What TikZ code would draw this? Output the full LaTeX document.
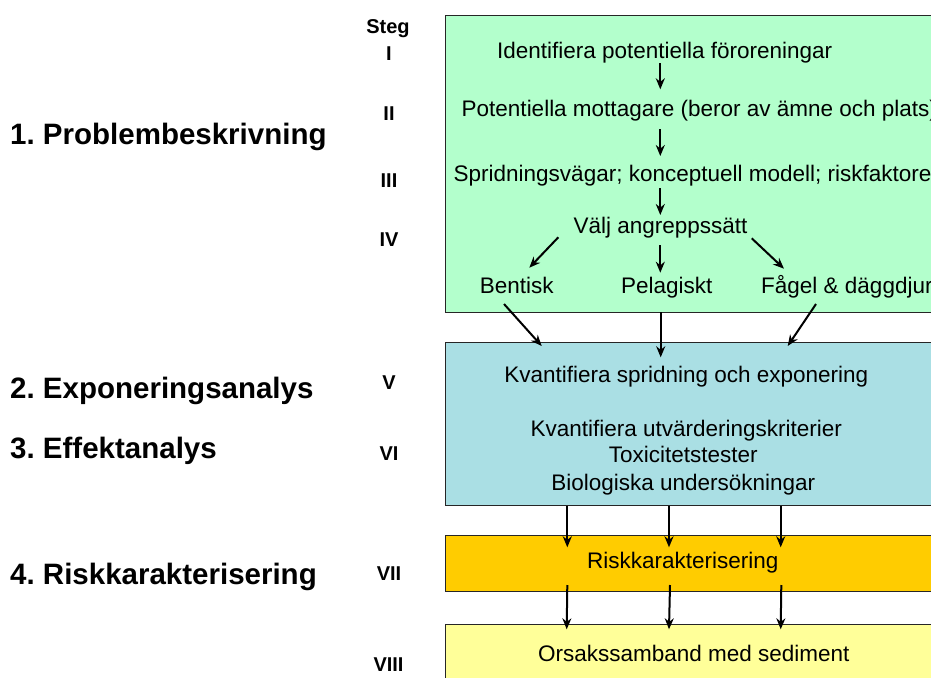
\documentclass[tikz,border=0pt]{standalone}
\usepackage{fontspec}
\setmainfont{Liberation Sans}
\frenchspacing
\usetikzlibrary{arrows.meta}

\definecolor{stageA}{RGB}{179,255,204}
\definecolor{stageB}{RGB}{170,223,228}
\definecolor{stageC}{RGB}{255,204,0}
\definecolor{stageD}{RGB}{255,255,153}

\tikzset{
  box/.style={draw=black!85, line width=0.9pt, anchor=north west, inner sep=0pt},
  txt/.style={inner sep=0pt, anchor=base, font=\fontsize{22.5}{26}\selectfont},
  txtw/.style={txt, anchor=base west},
  phase/.style={inner sep=0pt, anchor=base west, font=\fontsize{29.5}{34}\selectfont\bfseries},
  stegl/.style={inner sep=0pt, anchor=base, font=\fontsize{20}{24}\selectfont\bfseries},
  arr/.style={line width=2pt, -{Stealth[length=11pt,width=9pt]}}
}

\begin{document}
\begin{tikzpicture}[x=1pt,y=-1pt]
\useasboundingbox (0,0) rectangle (931,677);
\clip (0,0) rectangle (931,677);

% stage boxes (they run past the right edge)
\node[box, fill=stageA, minimum width=520pt, minimum height=297pt] (green) at (445,15) {};
\node[box, fill=stageB, minimum width=520pt, minimum height=163pt] (blue) at (445,342) {};
\node[box, fill=stageC, minimum width=520pt, minimum height=56pt] (orange) at (445,535) {};
\node[box, fill=stageD, minimum width=520pt, minimum height=80pt] (yellow) at (445,624) {};

% phase titles
\node[phase] (p1) at (10,144.3) {1. Problembeskrivning};
\node[phase] (p2) at (10,398.3) {2. Exponeringsanalys};
\node[phase] (p3) at (10,458.3) {3. Effektanalys};
\node[phase] (p4) at (10,584.3) {4. Riskkarakterisering};

% step numbers
\node[stegl] (steg) at (388,33.3) {Steg};
\node[stegl] (s1) at (389,60) {I};
\node[stegl] (s2) at (389,120) {II};
\node[stegl] (s3) at (389,187.7) {III};
\node[stegl] (s4) at (389,246.7) {IV};
\node[stegl] (s5) at (389,389.3) {V};
\node[stegl] (s6) at (389,460) {VI};
\node[stegl] (s7) at (389,580) {VII};
\node[stegl] (s8) at (388.5,671.7) {VIII};

% problem formulation texts
\node[txt] (t1) at (664.7,58.3) {Identifiera potentiella föroreningar};
\node[txtw] (t2) at (461.5,116.7) {Potentiella mottagare (beror av ämne och plats)};
\node[txtw] (t3) at (453.5,181.7) {Spridningsvägar; konceptuell modell; riskfaktorer};
\node[txt] (t4) at (660.5,233) {Välj angreppssätt};
\node[txt] (bent) at (516.7,293) {Bentisk};
\node[txt] (pel) at (666.7,293) {Pelagiskt};
\node[txtw] (fag) at (761,293) {Fågel \& däggdjur};

% exposure and effect texts
\node[txt] (e1) at (686.3,382.7) {Kvantifiera spridning och exponering};
\node[txt] (e2) at (686.3,436.7) {Kvantifiera utvärderingskriterier};
\node[txt] (e3) at (683.3,462.7) {Toxicitetstester};
\node[txt] (e4) at (683.3,490) {Biologiska undersökningar};

\node[txt] (r1) at (682.7,568.3) {Riskkarakterisering};
\node[txt] (o1) at (693.7,661.7) {Orsakssamband med sediment};

% arrow end points
\coordinate (a1s) at (660.3,63.3);   \coordinate (a1e) at (660.3,89.3);
\coordinate (a2s) at (660.3,129.3);  \coordinate (a2e) at (660.3,156);
\coordinate (a3s) at (660.3,188.3);  \coordinate (a3e) at (660.3,215);
\coordinate (bls) at (558.3,237.3);  \coordinate (ble) at (529.3,267.7);
\coordinate (bms) at (660.3,245);    \coordinate (bme) at (660.3,272.7);
\coordinate (brs) at (751.7,238.3);  \coordinate (bre) at (784,268.7);
\coordinate (cls) at (504,304);      \coordinate (cle) at (541.7,346);
\coordinate (cms) at (660.7,312);    \coordinate (cme) at (660.7,357.3);
\coordinate (crs) at (816,304);      \coordinate (cre) at (787.7,346);
\coordinate (dl) at (567.3,547.3);   \coordinate (dm) at (669,547.3);   \coordinate (dr) at (780.7,547.3);
\coordinate (fls) at (567.3,585);    \coordinate (fle) at (566.7,629.3);
\coordinate (fms) at (670,585);      \coordinate (fme) at (669,629.3);
\coordinate (frs) at (781.3,585);    \coordinate (fre) at (780.7,629.3);

% connectors
\draw[arr] (a1s) -- (a1e);
\draw[arr] (a2s) -- (a2e);
\draw[arr] (a3s) -- (a3e);
\draw[arr] (bls) -- (ble);
\draw[arr] (bms) -- (bme);
\draw[arr] (brs) -- (bre);
\draw[arr] (cls) -- (cle);
\draw[arr] (cms) -- (cme);
\draw[arr] (crs) -- (cre);
\draw[arr] (dl |- blue.south) -- (dl);
\draw[arr] (dm |- blue.south) -- (dm);
\draw[arr] (dr |- blue.south) -- (dr);
\draw[arr] (fls) -- (fle);
\draw[arr] (fms) -- (fme);
\draw[arr] (frs) -- (fre);
\end{tikzpicture}
\end{document}
